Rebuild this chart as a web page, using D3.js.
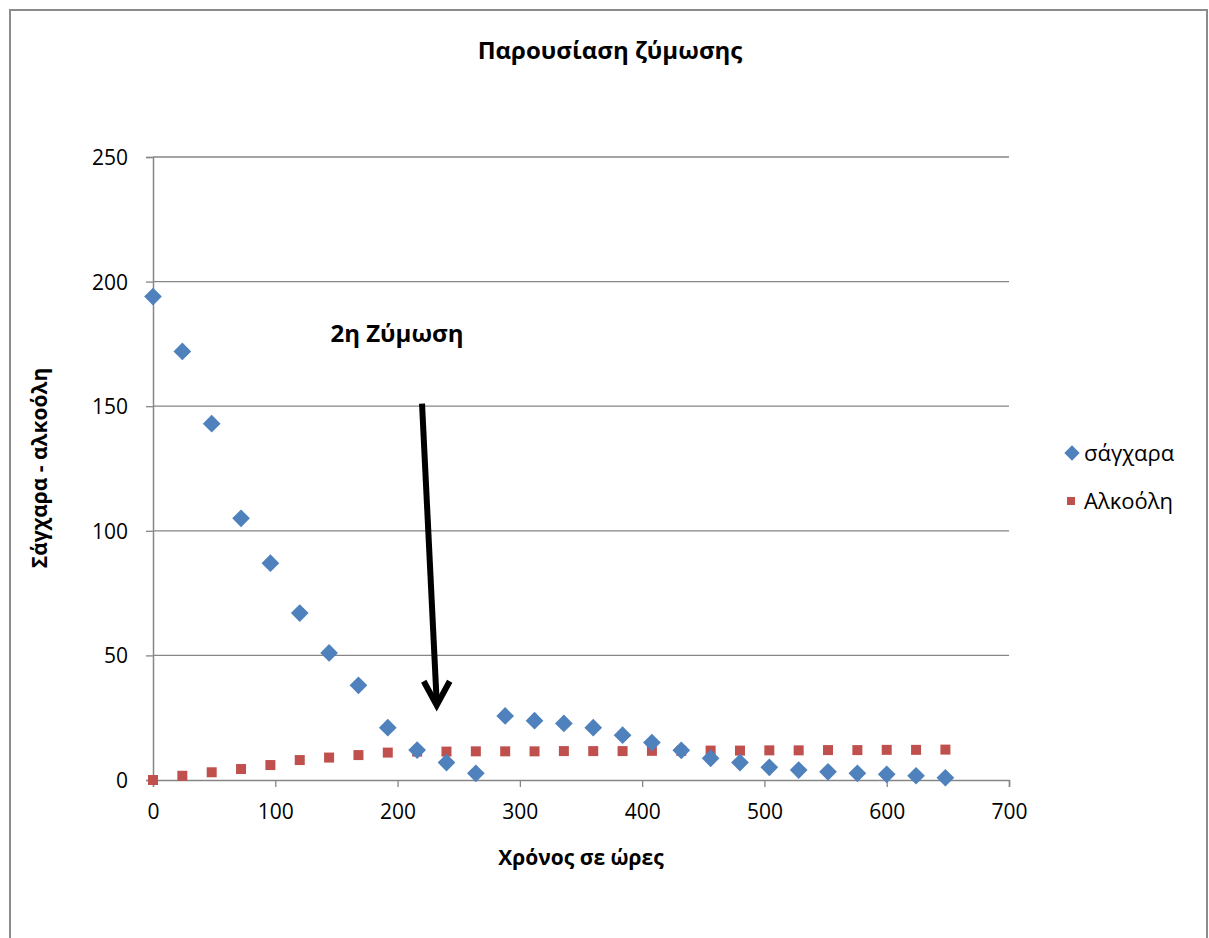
<!DOCTYPE html>
<html>
<head>
<meta charset="utf-8">
<script src="https://cdn.jsdelivr.net/npm/d3@7"></script>
<style>
  body { margin: 0; background: #fff; }
  text { font-family: "Open Sans", "Noto Sans", sans-serif; }
</style>
</head>
<body>
<svg id="chart" width="1209" height="938"></svg>
<script>
// hours
var hours = [0, 24, 48, 72, 96, 120, 144, 168, 192, 216, 240, 264, 288, 312,
             336, 360, 384, 408, 432, 456, 480, 504, 528, 552, 576, 600, 624, 648]
// sugar
var sugar = [194, 172, 143, 105, 87, 67, 51, 38, 21, 12, 7, 2.7, 25.7, 23.8,
             22.7, 21, 18, 15, 11.9, 8.7, 7, 5.1, 4, 3.3, 2.7, 2.3, 1.7, 0.9]
// alcohol
var alcohol = [0, 1.7, 3.1, 4.4, 6, 8, 9, 10, 11, 11.4, 11.4, 11.5, 11.5, 11.5,
               11.6, 11.6, 11.6, 11.7, 11.7, 11.8, 11.8, 11.9, 11.9, 12, 12, 12.1, 12.1, 12.2]
var xTicks = [0, 100, 200, 300, 400, 500, 600, 700]
var yTicks = [0, 50, 100, 150, 200, 250]
var seriesNames = ["σάγχαρα", "Αλκοόλη"]
var seriesColors = ["#4F81BD", "#C0504D"]
// arrow annotation, in data units: [x, y]
var arrowFrom = [220, 151]
var arrowTo = [232, 30]

var svg = d3.select("#chart")
var plotLeft = 153, plotRight = 1009, plotTop = 157, plotBottom = 780

// chart frame
svg.append("rect")
    .attr("x", 10).attr("y", 10)
    .attr("width", 1197).attr("height", 940)
    .attr("fill", "#fff")
    .attr("stroke", "#8c8c8c")
    .attr("stroke-width", 2)

var x = d3.scaleLinear().domain([0, 700]).range([plotLeft, plotRight])
var y = d3.scaleLinear().domain([0, 250]).range([plotBottom, plotTop])

// gridlines
svg.append("g").selectAll("line")
    .data(yTicks.filter(d => d > 0))
    .enter().append("line")
    .attr("x1", plotLeft).attr("x2", plotRight)
    .attr("y1", d => y(d)).attr("y2", d => y(d))
    .attr("stroke", "#868686")
    .attr("stroke-width", 1.3)

var yAxis = d3.axisLeft(y).tickValues(yTicks).tickSize(7).tickPadding(18)
var gy = svg.append("g").attr("transform", "translate(" + plotLeft + ",0)").call(yAxis)
var xAxis = d3.axisBottom(x).tickValues(xTicks).tickSize(7).tickPadding(17)
var gx = svg.append("g").attr("transform", "translate(0," + plotBottom + ")").call(xAxis)

;[gx, gy].forEach(g => {
    g.select(".domain").attr("stroke", "#868686").attr("stroke-width", 1.5)
    g.selectAll(".tick line").attr("stroke", "#868686").attr("stroke-width", 1.3)
    g.selectAll(".tick text").attr("fill", "#000").style("font-size", "21px")
        .style("font-family", "'Open Sans', 'Noto Sans', sans-serif")
})
gy.selectAll(".tick text").attr("dy", "0.36em")

// title
svg.append("text")
    .attr("x", 610).attr("y", 59)
    .attr("text-anchor", "middle")
    .style("font-size", "24px").style("font-weight", "bold")
    .text("Παρουσίαση ζύμωσης")

// axis titles
svg.append("text")
    .attr("x", 581).attr("y", 865)
    .attr("text-anchor", "middle")
    .style("font-size", "21px").style("font-weight", "bold")
    .text("Χρόνος σε ώρες")

svg.append("text")
    .attr("transform", "translate(47,468) rotate(-90)")
    .attr("text-anchor", "middle")
    .style("font-size", "21px").style("font-weight", "bold")
    .text("Σάγχαρα - αλκοόλη")

// alcohol (squares)
svg.append("g").selectAll("rect")
    .data(hours.map((h, i) => [h, alcohol[i]]))
    .enter().append("rect")
    .attr("x", d => x(d[0]) - 5)
    .attr("y", d => y(d[1]) - 5)
    .attr("width", 10).attr("height", 10)
    .attr("fill", seriesColors[1])

// sugar (diamonds)
var diamond = d3.symbol().type(d3.symbolDiamond2).size(200)
svg.append("g").selectAll("path")
    .data(hours.map((h, i) => [h, sugar[i]]))
    .enter().append("path")
    .attr("d", diamond)
    .attr("transform", d => "translate(" + x(d[0]) + "," + y(d[1]) + ")")
    .attr("fill", seriesColors[0])

// annotation
svg.append("text")
    .attr("x", 397).attr("y", 342)
    .attr("text-anchor", "middle")
    .style("font-size", "24px").style("font-weight", "bold")
    .text("2η Ζύμωση")

var ax1 = x(arrowFrom[0]), ay1 = y(arrowFrom[1])
var ax2 = x(arrowTo[0]), ay2 = y(arrowTo[1])
svg.append("line")
    .attr("x1", ax1).attr("y1", ay1)
    .attr("x2", ax2).attr("y2", ay2 - 3)
    .attr("stroke", "#000").attr("stroke-width", 6)
svg.append("path")
    .attr("d", "M" + (ax2 - 13) + "," + (ay2 - 24) + "L" + ax2 + "," + ay2 + "L" + (ax2 + 13) + "," + (ay2 - 24))
    .attr("fill", "none").attr("stroke", "#000").attr("stroke-width", 6)
    .attr("stroke-linejoin", "miter")

// legend
var legend = svg.append("g")
legend.append("path")
    .attr("d", d3.symbol().type(d3.symbolDiamond2).size(150))
    .attr("transform", "translate(1072,453)")
    .attr("fill", seriesColors[0])
legend.append("rect")
    .attr("x", 1067).attr("y", 497).attr("width", 8).attr("height", 8)
    .attr("fill", seriesColors[1])
legend.selectAll("text")
    .data(seriesNames)
    .enter().append("text")
    .attr("x", 1084)
    .attr("y", (d, i) => 453 + i * 48)
    .attr("dy", "0.35em")
    .style("font-size", "22px")
    .text(d => d)
</script>
</body>
</html>
